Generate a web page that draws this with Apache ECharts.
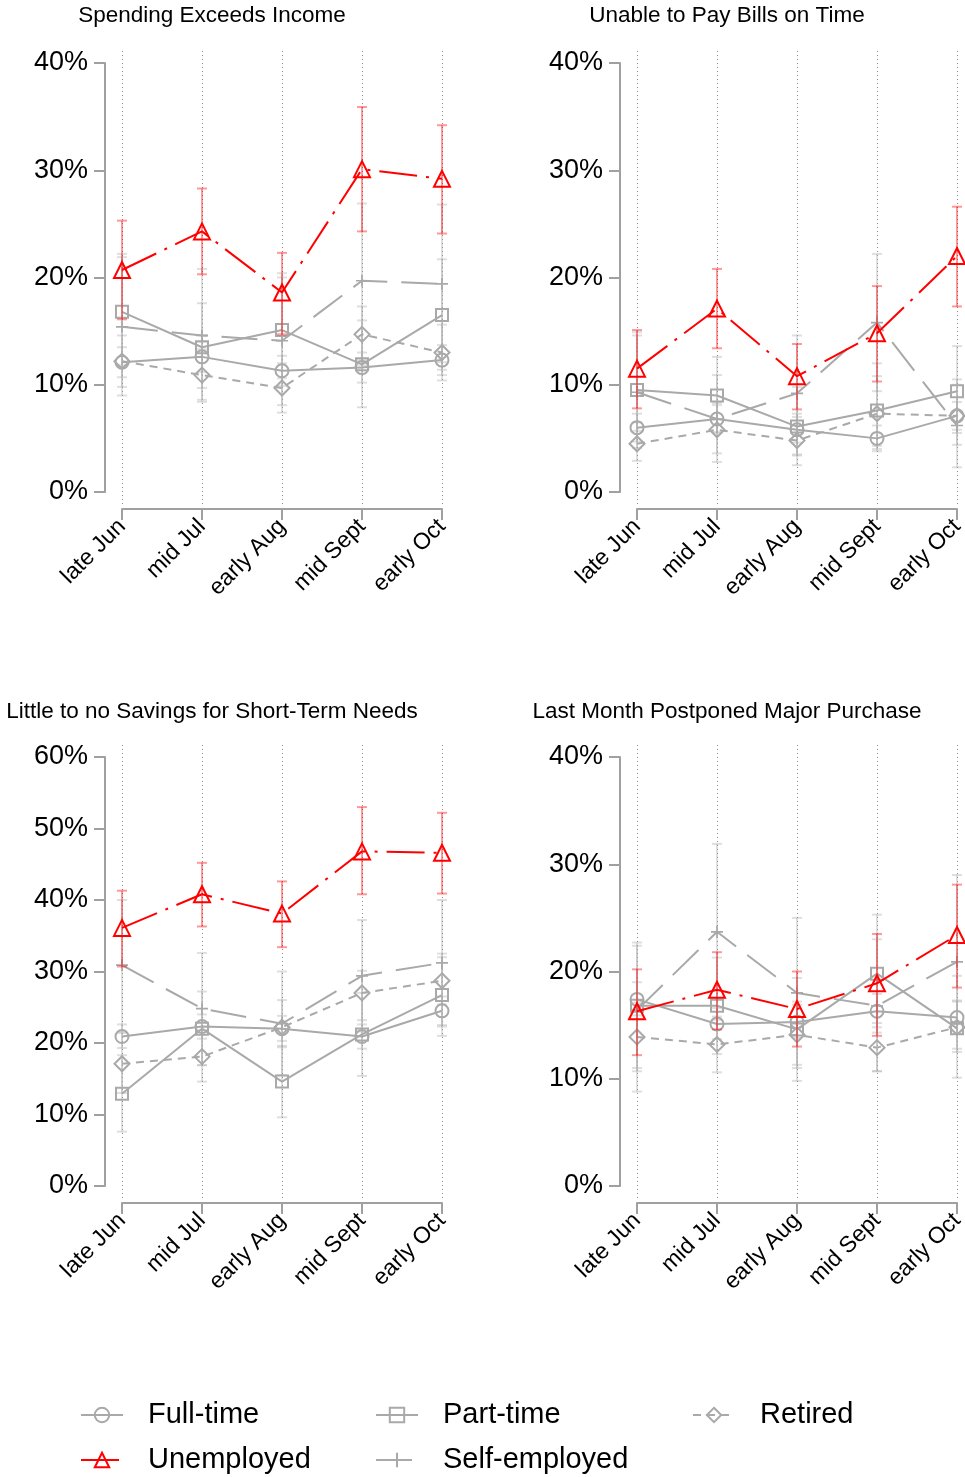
<!DOCTYPE html>
<html>
<head>
<meta charset="utf-8">
<script src="https://cdn.jsdelivr.net/npm/echarts@6/dist/echarts.min.js"></script>
<style>
  html, body { margin: 0; padding: 0; background: #fff; }
  #chart { width: 965px; height: 1477px; }
</style>
</head>
<body>
<div id="chart"></div>
<script>
// survey waves
const categories = ['late Jun', 'mid Jul', 'early Aug', 'mid Sept', 'early Oct'];
const groupNames = ['Full-time', 'Part-time', 'Retired', 'Self-employed', 'Unemployed'];

// Spending Exceeds Income
const spendFull = [12.1, 12.6, 11.3, 11.6, 12.3];
const spendFullCI = [[10.7, 13.5], [11.2, 14.0], [9.9, 12.7], [10.2, 13.0], [10.9, 13.7]];
const spendPart = [16.8, 13.5, 15.1, 11.9, 16.5];
const spendPartCI = [[11.8, 21.9], [9.7, 17.6], [10.6, 20.0], [7.9, 16.0], [11.4, 21.7]];
const spendRetired = [12.2, 10.9, 9.7, 14.7, 13.0];
const spendRetiredCI = [[9.8, 14.6], [8.6, 13.3], [7.4, 12.0], [11.8, 17.3], [10.4, 15.6]];
const spendSelf = [15.4, 14.6, 14.1, 19.7, 19.4];
const spendSelfCI = [[9.0, 22.2], [8.4, 20.8], [8.1, 20.4], [12.3, 26.9], [12.1, 26.8]];
const spendUnemp = [20.7, 24.3, 18.6, 30.1, 29.2];
const spendUnempCI = [[16.1, 25.3], [20.3, 28.3], [14.7, 22.3], [24.3, 35.9], [24.1, 34.2]];

// Unable to Pay Bills on Time
const billsFull = [6.0, 6.8, 5.8, 5.0, 7.1];
const billsFullCI = [[4.7, 7.3], [5.5, 8.1], [4.6, 7.0], [3.8, 6.2], [5.8, 8.4]];
const billsPart = [9.5, 9.0, 6.1, 7.6, 9.4];
const billsPartCI = [[5.7, 14.9], [5.6, 12.6], [3.4, 9.8], [4.0, 12.0], [5.5, 13.6]];
const billsRetired = [4.5, 5.8, 4.8, 7.3, 7.1];
const billsRetiredCI = [[2.9, 6.5], [3.6, 8.3], [2.5, 7.3], [4.3, 10.8], [4.4, 10.0]];
const billsSelf = [9.3, 6.8, 9.2, 15.8, 6.2];
const billsSelfCI = [[4.1, 14.6], [2.8, 10.9], [3.5, 14.6], [9.4, 22.2], [2.3, 10.5]];
const billsUnemp = [11.5, 17.1, 10.8, 14.8, 22.0];
const billsUnempCI = [[7.8, 15.1], [13.4, 20.8], [7.7, 13.8], [10.3, 19.2], [17.3, 26.6]];

// Little to no Savings for Short-Term Needs
const savFull = [20.9, 22.3, 22.0, 20.9, 24.5];
const savFullCI = [[19.3, 22.6], [20.6, 24.0], [20.3, 23.8], [19.2, 22.6], [22.5, 26.5]];
const savPart = [12.9, 22.0, 14.6, 21.2, 26.7];
const savPartCI = [[7.6, 18.3], [16.9, 27.2], [9.6, 19.6], [15.4, 27.0], [21.0, 32.5]];
const savRetired = [17.1, 18.1, 22.2, 27.0, 28.7];
const savRetiredCI = [[13.0, 21.4], [14.6, 21.8], [19.4, 26.0], [23.2, 30.1], [25.4, 32.0]];
const savSelf = [30.9, 24.8, 22.7, 29.4, 31.2];
const savSelfCI = [[21.6, 40.0], [16.9, 32.6], [15.5, 30.0], [21.6, 37.2], [22.3, 40.0]];
const savUnemp = [36.1, 40.8, 38.1, 46.8, 46.6];
const savUnempCI = [[30.7, 41.3], [36.3, 45.2], [33.4, 42.6], [40.8, 53.0], [40.9, 52.2]];

// Last Month Postponed Major Purchase
const postFull = [17.4, 15.1, 15.3, 16.3, 15.7];
const postFullCI = [[15.9, 19.0], [13.7, 16.6], [13.8, 16.9], [14.8, 17.9], [14.2, 17.3]];
const postPart = [16.8, 16.8, 14.6, 19.8, 14.7];
const postPartCI = [[11.0, 22.7], [12.3, 21.3], [9.8, 19.4], [14.3, 25.3], [10.1, 19.6]];
const postRetired = [13.9, 13.2, 14.1, 12.9, 14.8];
const postRetiredCI = [[10.7, 17.1], [10.6, 15.8], [11.0, 17.2], [10.7, 15.2], [12.5, 17.2]];
const postSelf = [16.4, 23.7, 18.0, 16.8, 20.9];
const postSelfCI = [[8.8, 22.4], [15.5, 31.9], [11.3, 25.0], [10.7, 23.0], [12.8, 29.0]];
const postUnemp = [16.3, 18.3, 16.5, 18.9, 23.4];
const postUnempCI = [[12.2, 20.2], [14.6, 21.8], [13.0, 20.0], [14.0, 23.5], [18.5, 28.1]];

const FONT = '"Liberation Sans", Arial, Helvetica, sans-serif';
const GRAY = '#a9a9a9';
const RED = '#ff0000';
const AXIS = '#a0a0a0';
const PLUS = 'path://M0,4.3H10V5.7H0Z M4.3,0H5.7V10H4.3Z';

const panels = [
  { title: 'Spending Exceeds Income', max: 40, left: 122, top: 63, titleX: 212, titleY: 4,
    values: [spendFull, spendPart, spendRetired, spendSelf, spendUnemp],
    cis: [spendFullCI, spendPartCI, spendRetiredCI, spendSelfCI, spendUnempCI] },
  { title: 'Unable to Pay Bills on Time', max: 40, left: 637, top: 63, titleX: 727, titleY: 4,
    values: [billsFull, billsPart, billsRetired, billsSelf, billsUnemp],
    cis: [billsFullCI, billsPartCI, billsRetiredCI, billsSelfCI, billsUnempCI] },
  { title: 'Little to no Savings for Short-Term Needs', max: 60, left: 122, top: 757, titleX: 212, titleY: 700,
    values: [savFull, savPart, savRetired, savSelf, savUnemp],
    cis: [savFullCI, savPartCI, savRetiredCI, savSelfCI, savUnempCI] },
  { title: 'Last Month Postponed Major Purchase', max: 40, left: 637, top: 757, titleX: 727, titleY: 700,
    values: [postFull, postPart, postRetired, postSelf, postUnemp],
    cis: [postFullCI, postPartCI, postRetiredCI, postSelfCI, postUnempCI] }
];

// marker / line look per group
const looks = {
  'Full-time':     { symbol: 'circle',   size: 13, dash: 'solid',       color: GRAY, hollow: true },
  'Part-time':     { symbol: 'rect',     size: 12, dash: 'solid',       color: GRAY, hollow: true },
  'Retired':       { symbol: 'diamond',  size: 15, dash: [8, 6],        color: GRAY, hollow: true },
  'Self-employed': { symbol: PLUS,       size: 12, dash: [36, 14],      color: GRAY, hollow: false },
  'Unemployed':    { symbol: 'triangle', size: 16, dash: [38, 9, 3, 9], color: RED,  hollow: true }
};

function renderErrorBar (params, api) {
  const i = api.value(0);
  const lo = api.coord([i, api.value(1)]);
  const hi = api.coord([i, api.value(2)]);
  const cap = 5;
  const style = { stroke: api.visual('color'), lineWidth: 2 };
  return {
    type: 'group',
    children: [
      { type: 'line', shape: { x1: lo[0], y1: lo[1], x2: hi[0], y2: hi[1] }, style: style },
      { type: 'line', shape: { x1: lo[0] - cap, y1: lo[1], x2: lo[0] + cap, y2: lo[1] }, style: style },
      { type: 'line', shape: { x1: hi[0] - cap, y1: hi[1], x2: hi[0] + cap, y2: hi[1] }, style: style }
    ]
  };
}

const W = 320, H = 429;
const grids = [], xAxes = [], yAxes = [], titles = [], series = [];

panels.forEach(function (p, k) {
  grids.push({ left: p.left, top: p.top, width: W, height: H, outerBoundsMode: 'none' });
  xAxes.push({
    gridIndex: k, type: 'category', data: categories, boundaryGap: false, offset: 17,
    axisLine: { onZero: false, lineStyle: { color: AXIS, width: 2 } },
    axisTick: { length: 11, lineStyle: { color: AXIS, width: 2 } },
    axisLabel: { rotate: 45, interval: 0, fontSize: 23, margin: 14, color: '#000', fontFamily: FONT },
    splitLine: { show: false }
  });
  yAxes.push({
    gridIndex: k, type: 'value', min: 0, max: p.max, interval: 10, offset: 17,
    axisLine: { show: true, onZero: false, lineStyle: { color: AXIS, width: 2 } },
    axisTick: { show: true, length: 11, lineStyle: { color: AXIS, width: 2 } },
    axisLabel: { formatter: '{value}%', fontSize: 27, margin: 17, color: '#000', fontFamily: FONT,
      padding: [9, 0, 0, 0] },
    splitLine: { show: false }
  });
  titles.push({
    text: p.title, left: p.titleX, top: p.titleY, textAlign: 'center', padding: 0,
    textStyle: { fontSize: 22.5, fontWeight: 'normal', color: '#000', fontFamily: FONT }
  });

  groupNames.forEach(function (name, g) {
    const isRed = name === 'Unemployed';
    series.push({
      type: 'custom', name: name + ' CI', xAxisIndex: k, yAxisIndex: k,
      renderItem: renderErrorBar, silent: true, z: isRed ? 3 : 1,
      itemStyle: { color: isRed ? 'rgba(255,0,0,0.4)' : 'rgba(170,170,170,0.38)' },
      encode: { x: 0, y: [1, 2] },
      data: p.cis[g].map(function (d, i) { return [i, d[0], d[1]]; })
    });
  });
  groupNames.forEach(function (name, g) {
    const look = looks[name];
    series.push({
      type: 'line', name: name, xAxisIndex: k, yAxisIndex: k,
      data: p.values[g], symbol: look.symbol, symbolSize: look.size, showSymbol: true,
      z: name === 'Unemployed' ? 4 : 2,
      lineStyle: { color: look.color, width: 2, type: look.dash },
      itemStyle: look.hollow
        ? { color: 'rgba(255,255,255,0)', borderColor: look.color, borderWidth: 2 }
        : { color: look.color, borderWidth: 0 },
      emphasis: { disabled: true }
    });
  });
});

// dotted vertical guides, a bit taller than the plot
panels.forEach(function (p, k) {
  grids.push({ left: p.left, top: p.top - 12, width: W, height: H + 25, outerBoundsMode: 'none' });
  xAxes.push({
    gridIndex: 4 + k, type: 'category', data: categories, boundaryGap: false,
    axisLine: { show: false }, axisTick: { show: false }, axisLabel: { show: false },
    splitLine: { show: true, lineStyle: { color: '#8a8a8a', width: 1, type: [1, 3] } }
  });
  yAxes.push({ gridIndex: 4 + k, type: 'value', show: false });
});

const legendBase = {
  orient: 'vertical', top: 1399, padding: 0, itemGap: 13, itemWidth: 42, itemHeight: 18,
  selectedMode: false,
  textStyle: { fontSize: 29, lineHeight: 32, color: '#000', fontFamily: FONT, padding: [0, 0, 0, 20] }
};

const chart = echarts.init(document.getElementById('chart'), null, { renderer: 'canvas' });
chart.setOption({
  animation: false,
  backgroundColor: '#fff',
  title: titles,
  grid: grids,
  xAxis: xAxes,
  yAxis: yAxes,
  legend: [
    Object.assign({}, legendBase, { left: 80, data: ['Full-time', 'Unemployed'] }),
    Object.assign({}, legendBase, { left: 375, data: ['Part-time', 'Self-employed'] }),
    Object.assign({}, legendBase, { left: 692, data: ['Retired'] })
  ],
  series: series
});
</script>
</body>
</html>
